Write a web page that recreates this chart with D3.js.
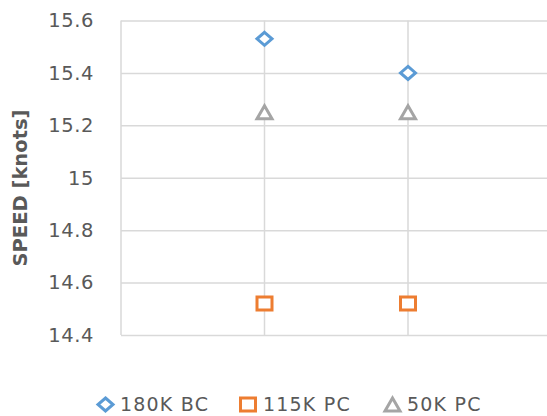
<!DOCTYPE html>
<html>
<head>
<meta charset="utf-8">
<script src="https://cdn.jsdelivr.net/npm/d3@7"></script>
<style>
  html, body { margin: 0; padding: 0; background: #fff; }
  svg { display: block; }
</style>
</head>
<body>
<svg id="chart" width="547" height="416"></svg>
<script>
// Ship classes and their speed at two positions along the x axis
const seriesNames = ["180K BC", "115K PC", "50K PC"];
const xPositions = [1, 2];
const speed180kBC = [15.53, 15.40];
const speed115kPC = [14.52, 14.52];
const speed50kPC = [15.25, 15.25];
const yTicks = [14.4, 14.6, 14.8, 15.0, 15.2, 15.4, 15.6];
const xGridValues = [1, 2];

const colors = ["#5B9BD5", "#ED7D31", "#A5A5A5"];
const shapes = ["diamond", "square", "triangle"];
const seriesValues = [speed180kBC, speed115kPC, speed50kPC];

const svg = d3.select("#chart");
const plotLeft = 121, plotTop = 20.5, plotBottom = 335, plotRight = 551.5;

const x = d3.scaleLinear().domain([0, 3]).range([plotLeft, plotRight]);
const y = d3.scaleLinear().domain([14.4, 15.6]).range([plotBottom, plotTop]);

const gridColor = "#D9D9D9";
const textColor = "#595959";
const font = "'DejaVu Sans', sans-serif";

// horizontal gridlines via a y axis with full-width ticks
const yAxis = d3.axisLeft(y).tickValues(yTicks).tickSize(-(plotRight - plotLeft)).tickFormat(d3.format("~g"));
const gy = svg.append("g").attr("transform", `translate(${plotLeft},0)`).call(yAxis);
gy.select(".domain").remove();
gy.selectAll(".tick line").attr("stroke", gridColor).attr("stroke-width", 1.5);
gy.selectAll(".tick text")
  .attr("x", -27)
  .attr("fill", textColor)
  .style("font-family", font)
  .style("font-size", "19.5px")
  .style("letter-spacing", "0.6px");

// vertical lines: left edge plus gridlines at x = 1, 2
svg.append("line")
  .attr("x1", plotLeft).attr("x2", plotLeft).attr("y1", plotTop).attr("y2", plotBottom)
  .attr("stroke", gridColor).attr("stroke-width", 1.5);
svg.append("g").selectAll("line").data(xGridValues).join("line")
  .attr("x1", d => x(d)).attr("x2", d => x(d))
  .attr("y1", plotTop).attr("y2", plotBottom)
  .attr("stroke", gridColor).attr("stroke-width", 1.5);

// marker path generator, centred on 0,0
function markerPath(shape) {
  if (shape === "diamond") return "M0,-6.5 L7.5,0 L0,6.5 L-7.5,0 Z";
  if (shape === "square") return "M-7.5,-6.5 H7.5 V6.5 H-7.5 Z";
  return "M0,-6.5 L7.5,6.5 L-7.5,6.5 Z";
}

seriesValues.forEach((vals, i) => {
  svg.append("g").selectAll("path").data(vals).join("path")
    .attr("transform", (d, j) => `translate(${x(xPositions[j])},${y(d)})`)
    .attr("d", markerPath(shapes[i]))
    .attr("fill", "#fff")
    .attr("stroke", colors[i])
    .attr("stroke-width", 3)
    .attr("stroke-linejoin", "miter");
});

// y axis title
svg.append("text")
  .attr("transform", `translate(27,188) rotate(-90)`)
  .attr("text-anchor", "middle")
  .attr("fill", textColor)
  .style("font-family", font)
  .style("font-weight", "bold")
  .style("font-size", "19.5px")
  .text("SPEED [knots]");

// legend
const legendMarkX = [105.5, 248, 392.5];
const legendTextX = [120, 263, 407];
const legendY = 404.5;
const lg = svg.append("g");
seriesNames.forEach((name, i) => {
  lg.append("path")
    .attr("transform", `translate(${legendMarkX[i]},${legendY})`)
    .attr("d", markerPath(shapes[i]))
    .attr("fill", "#fff")
    .attr("stroke", colors[i])
    .attr("stroke-width", 3);
  lg.append("text")
    .attr("x", legendTextX[i])
    .attr("y", 410.5)
    .attr("fill", textColor)
    .style("font-family", font)
    .style("font-size", "19px")
    .style("letter-spacing", "1.2px")
    .text(name);
});
</script>
</body>
</html>
